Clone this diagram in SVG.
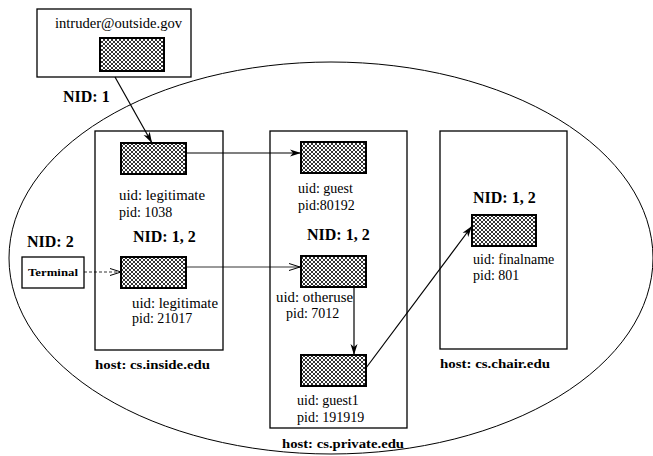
<svg xmlns="http://www.w3.org/2000/svg" width="653" height="456" viewBox="0 0 653 456">
<style>
  .box { fill: none; stroke: #000; stroke-width: 1.3; }
  .proc { fill: url(#hatch); stroke: #000; stroke-width: 2; }
  .t { font-family: "Liberation Serif", "Times New Roman", serif; font-size: 14px; fill: #000; }
  .nid { font-family: "Liberation Serif", "Times New Roman", serif; font-size: 16px; font-weight: bold; fill: #000; }
  .host { font-family: "Liberation Serif", "Times New Roman", serif; font-size: 13px; font-weight: bold; fill: #000; }
  .term { font-family: "Liberation Serif", "Times New Roman", serif; font-size: 11px; font-weight: bold; fill: #000; }
  .edge { fill: none; stroke: #000; stroke-width: 1.2; }
  .thin { fill: none; stroke: #000; stroke-width: 0.8; }
  .dash { fill: none; stroke: #000; stroke-width: 0.8; stroke-dasharray: 3 2; }
</style>
<defs>
  <pattern id="hatch" width="4" height="4" patternUnits="userSpaceOnUse">
    <rect width="4" height="4" fill="#fff"/>
    <path d="M0,0 L4,4 M4,0 L0,4" stroke="#000" stroke-width="0.8"/>
  </pattern>
  <marker id="arr" markerWidth="12" markerHeight="8" refX="11" refY="4" orient="auto" markerUnits="userSpaceOnUse">
    <path d="M0,0.5 L11,4 L0,7.5 L3,4 Z" fill="#000"/>
  </marker>
  <marker id="arrOpen" markerWidth="12" markerHeight="8" refX="11" refY="4" orient="auto" markerUnits="userSpaceOnUse">
    <path d="M0,0.5 L11,4 L0,7.5" fill="none" stroke="#000" stroke-width="1"/>
  </marker>
</defs>
<rect width="653" height="456" fill="#fff"/>

<g id="network">
  <ellipse cx="331" cy="258" rx="322" ry="196" fill="none" stroke="#000" stroke-width="1"/>
</g>

<g id="intruder">
  <rect class="box" x="37" y="9" width="154" height="68" fill="#fff"/>
  <text class="t" x="55" y="28" textLength="127" lengthAdjust="spacingAndGlyphs">intruder@outside.gov</text>
  <rect class="proc" x="100" y="38" width="64" height="33"/>
</g>
<text id="nid1" class="nid" x="63" y="102">NID: 1</text>

<g id="terminal">
  <text class="nid" x="27" y="247">NID: 2</text>
  <rect class="box" x="22" y="257" width="62" height="31"/>
  <text class="term" x="28" y="276" textLength="50" lengthAdjust="spacingAndGlyphs">Terminal</text>
</g>

<g id="host-inside">
  <rect class="box" x="95" y="131" width="128" height="219"/>
  <rect class="proc" x="121" y="143" width="65" height="31"/>
  <text class="t" x="119" y="200" textLength="86" lengthAdjust="spacingAndGlyphs">uid: legitimate</text>
  <text class="t" x="119" y="217">pid: 1038</text>
  <text class="nid" x="133" y="242">NID: 1, 2</text>
  <rect class="proc" x="121" y="257" width="65" height="31"/>
  <text class="t" x="132" y="308" textLength="86" lengthAdjust="spacingAndGlyphs">uid: legitimate</text>
  <text class="t" x="132" y="323">pid: 21017</text>
  <text class="host" x="95" y="369" textLength="115" lengthAdjust="spacingAndGlyphs">host: cs.inside.edu</text>
</g>

<g id="host-private">
  <rect class="box" x="270" y="131" width="137" height="297"/>
  <rect class="proc" x="301" y="142" width="65" height="31"/>
  <text class="t" x="298" y="193">uid: guest</text>
  <text class="t" x="298" y="210">pid:80192</text>
  <text class="nid" x="307" y="240">NID: 1, 2</text>
  <rect class="proc" x="301" y="256" width="65" height="31"/>
  <text class="t" x="276" y="302" textLength="77" lengthAdjust="spacingAndGlyphs">uid: otheruse</text>
  <text class="t" x="286" y="318">pid: 7012</text>
  <rect class="proc" x="301" y="355" width="65" height="31"/>
  <text class="t" x="297" y="405">uid: guest1</text>
  <text class="t" x="297" y="422">pid: 191919</text>
  <text class="host" x="282" y="448" textLength="122" lengthAdjust="spacingAndGlyphs">host: cs.private.edu</text>
</g>

<g id="host-chair">
  <rect class="box" x="440" y="131" width="127" height="218"/>
  <text class="nid" x="473" y="203">NID: 1, 2</text>
  <rect class="proc" x="472" y="215" width="64" height="31"/>
  <text class="t" x="473" y="264">uid: finalname</text>
  <text class="t" x="473" y="280">pid: 801</text>
  <text class="host" x="440" y="368" textLength="110" lengthAdjust="spacingAndGlyphs">host: cs.chair.edu</text>
</g>

<g id="connectors">
  <line class="edge" x1="115" y1="77" x2="152" y2="143" marker-end="url(#arr)"/>
  <line class="edge" x1="186" y1="153" x2="301" y2="153" marker-end="url(#arr)"/>
  <line class="dash" x1="84" y1="272" x2="121" y2="272" marker-end="url(#arrOpen)"/>
  <line class="thin" x1="186" y1="267" x2="300" y2="267" marker-end="url(#arrOpen)"/>
  <line class="edge" x1="354" y1="287" x2="354" y2="355" marker-end="url(#arr)"/>
  <line class="edge" x1="366" y1="368" x2="472" y2="226" marker-end="url(#arr)"/>
</g>
</svg>
